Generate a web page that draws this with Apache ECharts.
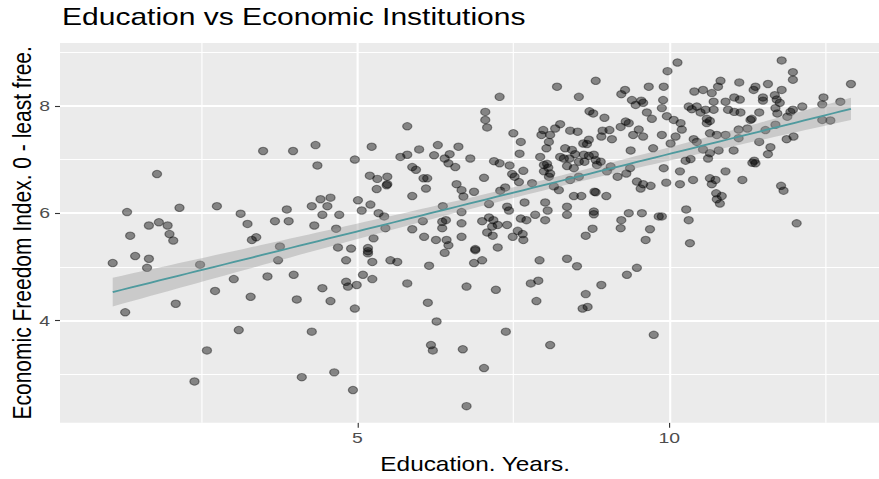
<!DOCTYPE html>
<html>
<head>
<meta charset="utf-8">
<title>Education vs Economic Institutions</title>
<script src="https://cdn.jsdelivr.net/npm/echarts@6.0.0/dist/echarts.min.js"></script>
<style>
  html, body { margin: 0; padding: 0; background: #ffffff; overflow: hidden; }
  /* the plot is laid out on a narrower canvas and widened to the full 879px */
  #chart { width: 703px; height: 479px; transform: scaleX(1.2504); transform-origin: 0 0; }
</style>
</head>
<body>
<div id="chart"></div>
<script>
// Average years of education per country-year
const eduYears = [
  1.79,1.31,2.15,2.75,3.13,3.24,1.66,1.82,1.96,
  1.36,1.99,2.05,3.31,3.38,1.44,1.66,1.08,1.63,2.48,3.02,2.72,3.29,2.09,1.28,3.10,2.59,2.39,
  5.80,3.49,3.97,4.33,4.36,4.96,5.23,5.69,5.80,5.99,6.29,6.62,6.23,6.40,6.48,6.46,6.57,5.88,5.94,5.20,5.32,5.48,5.48,5.47,5.31,6.06,6.12,6.10,6.59,6.67,5.88,4.41,4.57,4.27,4.52,3.87,4.44,4.71,5.01,5.21,5.07,5.34,5.43,3.68,3.90,4.31,4.66,5.45,6.37,6.42,6.36,6.05,6.67,5.88,6.36,6.70,6.67,
  5.26,6.07,6.26,6.43,6.46,6.40,6.67,4.69,4.90,5.17,5.17,5.17,3.76,3.73,4.82,5.24,5.53,5.64,6.15,3.56,3.98,5.09,5.24,4.82,4.85,4.99,4.44,5.80,4.03,4.57,4.96,6.13,6.27,4.27,6.18,6.21,6.69,4.11,4.63,4.93,
  7.17,7.49,7.65,7.66,6.89,6.89,7.25,6.87,7.00,8.66,9.62,7.92,8.36,8.52,9.48,9.32,6.75,7.22,7.78,7.90,7.87,8.66,8.91,8.61,8.69,7.38,8.09,9.75,7.03,6.75,7.08,7.57,
  10.33,
  10.13,9.97,11.80,11.98,11.98,12.91,9.91,10.82,11.12,11.58,10.78,11.38,11.35,11.80,10.40,10.54,10.68,10.71,9.90,9.88,10.90,11.04,11.13,11.50,11.50,11.69,11.72,11.77,11.70,11.98,12.13,12.47,12.45,12.74,12.45,12.58,11.94,11.89,11.73,11.44,11.70,11.54,10.31,10.36,10.44,10.50,10.58,10.71,10.60,10.65,10.60,10.94,11.04,11.14,11.30,11.32,9.96,10.07,10.18,10.20,9.88,10.10,10.02,10.65,10.76,10.90,11.11,11.25,11.11,10.39,10.44,10.54,10.65,10.62,10.79,11.03,11.44,11.62,11.58,11.88,11.99,11.36,11.38,11.33,9.91,10.26,10.34,10.17,9.95,10.17,10.38,10.65,10.74,10.68,10.90,11.17,10.75,10.84,10.76,10.81,11.79,11.83,10.27,10.31,9.88,12.04,
  8.20,8.82,7.28,8.55,9.29,9.23,9.67,9.40,9.46,9.55,9.58,7.05,7.05,7.08,8.72,8.78,8.96,9.64,9.72,9.30,9.35,9.22,8.25,8.17,7.98,7.95,8.09,8.41,8.53,8.93,9.04,8.91,9.08,9.51,9.42,9.58,7.50,7.62,7.60,6.81,7.19,7.28,7.44,7.66,7.48,7.52,7.03,7.59,7.37,7.29,6.87,7.11,7.40,7.43,7.68,7.11,7.00,7.18,7.25,7.16,7.40,7.62,7.71,7.85,8.01,8.05,8.01,8.36,8.36,8.47,8.59,8.80,8.82,8.99,8.79,8.79,8.77,9.35,9.23,9.56,9.83,9.69,9.22,9.17,9.31,9.37,9.48,9.58,9.54,9.70,9.38,9.74,7.93,8.03,8.07,7.99,8.04,8.06,7.99,8.07,8.09,8.15,8.25,8.33,8.44,8.49,8.31,8.40,8.36,8.47,8.55,8.62,8.68,8.71,8.63,8.71,8.79,8.64,8.82,8.90,8.84,8.41,8.55,8.23,7.80,9.06,9.00
];

// Economic freedom index (0 = least free), same order as eduYears
const freedomIndex = [
  6.73,6.02,6.10,6.13,5.99,5.80,5.77,5.83,5.77,
  5.58,5.61,5.49,5.50,5.55,5.20,5.15,5.07,4.98,5.04,4.77,4.55,4.44,4.31,4.15,3.82,3.44,2.86,
  7.62,7.16,7.16,7.27,6.89,7.00,7.24,7.05,7.09,7.19,7.27,7.24,7.08,7.02,7.10,6.93,6.86,6.86,6.81,6.70,6.64,6.68,6.54,6.52,6.45,6.65,6.65,6.46,6.54,6.43,6.32,6.26,6.29,6.13,6.13,6.07,5.97,5.97,6.24,6.16,6.05,6.00,5.94,5.85,5.85,5.77,5.71,5.72,6.13,5.87,5.84,5.85,5.81,5.70,5.72,6.31,6.02,
  5.53,5.56,5.50,5.50,5.40,5.26,5.56,5.36,5.34,5.35,5.29,5.25,5.38,5.12,5.12,5.09,5.12,5.09,5.02,4.82,4.85,4.85,4.77,4.72,4.63,4.66,4.60,4.69,4.39,4.36,4.22,4.33,3.98,3.79,3.54,3.44,3.46,2.94,3.03,2.70,
  5.58,5.56,5.61,5.50,5.33,5.31,5.36,5.07,5.12,5.58,5.50,5.12,5.15,5.01,4.98,4.85,4.63,4.57,4.69,4.74,4.36,4.49,4.66,4.22,4.25,3.79,3.54,3.73,3.11,2.40,5.64,5.67,
  5.44,
  8.81,8.65,8.85,8.63,8.49,8.41,8.36,8.47,8.44,8.41,8.36,8.36,8.30,8.30,8.27,8.30,8.24,8.08,8.11,7.96,8.08,8.16,8.12,8.16,8.10,8.20,8.12,8.06,7.96,7.93,7.99,8.16,8.03,8.08,7.74,7.73,7.89,7.80,7.86,7.88,7.65,7.55,7.99,7.94,7.99,7.88,7.93,7.93,7.76,7.72,7.68,7.93,7.89,7.88,7.74,7.76,7.81,7.74,7.68,7.56,7.46,7.43,7.30,7.49,7.46,7.46,7.56,7.58,7.40,7.38,7.33,7.19,7.12,7.02,7.17,7.17,7.33,7.23,7.10,7.38,7.43,6.98,6.93,6.94,6.84,6.98,7.01,6.78,6.57,6.54,6.62,6.65,6.62,6.54,6.78,6.62,6.37,6.32,6.26,6.18,6.51,6.42,6.07,5.87,5.94,5.81,
  8.36,8.47,8.17,8.17,8.30,8.22,8.36,8.11,8.02,8.10,8.06,7.89,7.74,7.60,7.90,7.86,7.78,7.88,7.76,7.71,7.68,7.61,7.66,7.58,7.55,7.46,7.46,7.54,7.52,7.54,7.55,7.43,7.38,7.56,7.46,7.43,7.49,7.33,7.11,7.02,6.97,6.93,6.89,6.79,6.73,6.68,6.66,6.58,6.48,6.42,6.40,6.17,6.12,6.05,6.20,5.92,5.85,5.87,5.78,5.75,5.78,5.90,5.87,5.97,6.20,6.05,5.87,6.12,5.97,6.32,6.32,6.40,6.39,6.32,6.03,5.98,5.71,6.00,5.87,6.00,5.94,5.70,5.72,6.68,6.74,6.84,6.59,6.54,6.46,6.51,7.17,7.21,7.05,7.21,7.33,6.90,6.92,6.85,6.78,6.68,6.74,6.50,7.05,7.21,7.18,7.10,7.02,7.02,6.88,6.84,6.96,7.30,7.29,7.37,7.09,7.07,7.09,6.96,6.99,6.96,6.90,6.62,6.68,6.43,6.56,6.87,6.78
];

// Axis ticks and panel grid
const xTickLabels = [5, 10];
const xMinorGrid = [2.5, 7.5, 12.5];
const yTickLabels = [4, 6, 8];
const yMinorGrid = [3, 5, 7, 9];

// Ordinary least squares fit with a 95% confidence band on the mean
function linearFit(xs, ys, steps) {
  const n = xs.length;
  let sx = 0, sy = 0;
  for (let i = 0; i < n; i++) { sx += xs[i]; sy += ys[i]; }
  const mx = sx / n, my = sy / n;
  let sxx = 0, sxy = 0;
  for (let i = 0; i < n; i++) {
    sxx += (xs[i] - mx) * (xs[i] - mx);
    sxy += (xs[i] - mx) * (ys[i] - my);
  }
  const b = sxy / sxx, a = my - b * mx;
  let sse = 0;
  for (let i = 0; i < n; i++) { const r = ys[i] - a - b * xs[i]; sse += r * r; }
  const s = Math.sqrt(sse / (n - 2));
  const t = 1.966;
  const lo = Math.min(...xs), hi = Math.max(...xs);
  const line = [], upper = [], lower = [];
  for (let k = 0; k < steps; k++) {
    const x = lo + (hi - lo) * k / (steps - 1);
    const yhat = a + b * x;
    const se = s * Math.sqrt(1 / n + (x - mx) * (x - mx) / sxx);
    line.push([x, yhat]);
    upper.push([x, yhat + t * se]);
    lower.push([x, yhat - t * se]);
  }
  return { line, upper, lower };
}

const fit = linearFit(eduYears, freedomIndex, 80);
const points = eduYears.map((x, i) => [x, freedomIndex[i]]);

const font = 'Liberation Sans, Arial, Helvetica, sans-serif';
const chart = echarts.init(document.getElementById('chart'), null, { renderer: 'svg' });

const gridLines = []
  .concat(xTickLabels.map(v => ({ xAxis: v, lineStyle: { width: 1.7 } })))
  .concat(xMinorGrid.map(v => ({ xAxis: v, lineStyle: { width: 0.9 } })))
  .concat(yTickLabels.map(v => ({ yAxis: v, lineStyle: { width: 2.1 } })))
  .concat(yMinorGrid.map(v => ({ yAxis: v, lineStyle: { width: 1.1 } })));

chart.setOption({
  animation: false,
  backgroundColor: '#ffffff',
  title: {
    text: 'Education vs Economic Institutions',
    left: 49.6,
    top: 5,
    padding: 0,
    textStyle: { fontFamily: font, fontSize: 24, fontWeight: 'normal', color: '#000000' }
  },
  grid: {
    left: 48, right: 0, top: 43, bottom: 56.3,
    outerBoundsMode: 'none',
    containLabel: false,
    show: true, backgroundColor: '#EBEBEB', borderWidth: 0
  },
  xAxis: {
    type: 'value',
    min: 0.2356, max: 13.36,
    name: 'Education. Years.',
    nameLocation: 'middle',
    nameGap: 32,
    nameMoveOverlap: false,
    nameTextStyle: { fontFamily: font, fontSize: 19.5, color: '#000000', padding: [0, 0, 0, 9] },
    axisLine: { show: false },
    axisTick: { show: true, customValues: xTickLabels, length: 5, lineStyle: { color: '#333333', width: 0.9 } },
    axisLabel: { customValues: xTickLabels, margin: 7, fontFamily: font, fontSize: 15.5, color: '#4D4D4D' },
    splitLine: { show: false }
  },
  yAxis: {
    type: 'value',
    min: 2.091, max: 9.175,
    name: 'Economic Freedom Index. 0 - least free.',
    nameLocation: 'middle',
    nameGap: 20,
    nameMoveOverlap: false,
    nameTextStyle: { fontFamily: font, fontSize: 21, color: '#000000' },
    axisLine: { show: false },
    axisTick: { show: true, customValues: yTickLabels, length: 4, lineStyle: { color: '#333333', width: 1.1 } },
    axisLabel: { customValues: yTickLabels, margin: 8, fontFamily: font, fontSize: 15.5, color: '#4D4D4D' },
    splitLine: { show: false }
  },
  series: [
    {
      name: 'countries',
      type: 'scatter',
      z: 2,
      data: points,
      symbol: 'circle',
      symbolSize: 7.4,
      itemStyle: { color: 'rgba(0,0,0,0.55)', borderColor: 'rgba(0,0,0,0.5)', borderWidth: 1 },
      markLine: {
        z: 1,
        silent: true,
        symbol: ['none', 'none'],
        label: { show: false },
        lineStyle: { color: '#ffffff', type: 'solid' },
        emphasis: { disabled: true },
        data: gridLines
      }
    },
    {
      name: 'confidence band',
      type: 'custom',
      z: 3,
      silent: true,
      data: [fit.line[0]],
      renderItem: function (params, api) {
        const pts = fit.upper.map(p => api.coord(p))
          .concat(fit.lower.slice().reverse().map(p => api.coord(p)));
        return { type: 'polygon', shape: { points: pts }, style: { fill: 'rgba(153,153,153,0.4)' } };
      }
    },
    {
      name: 'linear fit',
      type: 'line',
      z: 4,
      data: fit.line,
      showSymbol: false,
      silent: true,
      lineStyle: { color: '#4F9A9E', width: 1.8 }
    }
  ]
});
</script>
</body>
</html>
